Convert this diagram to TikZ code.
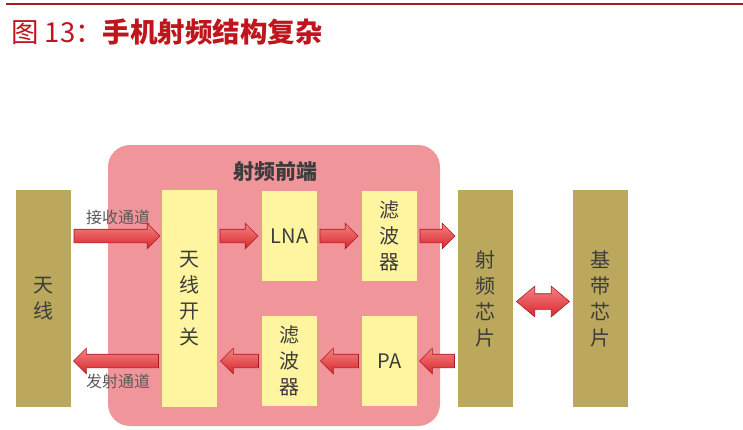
\documentclass[tikz,border=0pt]{standalone}
\usepackage{fontspec}
\setmainfont{Noto Sans CJK SC}
\usetikzlibrary{shapes.arrows,positioning}
\definecolor{titlered}{RGB}{190,22,28}
\definecolor{linered}{RGB}{165,28,30}
\definecolor{rfpink}{RGB}{240,150,155}
\definecolor{olivebox}{RGB}{187,168,92}
\definecolor{paleyel}{RGB}{255,245,160}
\definecolor{txtgray}{RGB}{60,60,60}
\definecolor{arrowdark}{RGB}{170,25,30}
\definecolor{arrowtop}{RGB}{245,130,130}
\definecolor{arrowbot}{RGB}{215,40,45}
\begin{document}
\begin{tikzpicture}[x=1pt,y=-1pt,
  chip/.style={fill=olivebox, minimum width=55pt, minimum height=217pt, inner sep=0pt, text=txtgray, font=\fontsize{20}{26}\selectfont, align=center},
  block/.style={fill=paleyel, minimum width=55pt, inner sep=0pt, text=txtgray, font=\fontsize{20}{26}\selectfont, align=center},
  fat/.style={single arrow, single arrow head extend=6pt, text height=13pt, text depth=0pt, minimum height=#1, inner sep=0pt, draw=arrowdark, line width=0.6pt, top color=arrowtop, bottom color=arrowbot, pos=0, anchor=tail},
  rarr/.style={fat=#1, xshift=2.5pt},
  larr/.style={fat=#1, shape border rotate=180, xshift=-3pt},
  darr/.style={double arrow, double arrow head extend=7.5pt, double arrow tip angle=80, text height=15pt, text depth=0pt, minimum height=#1, inner sep=0pt, draw=arrowdark, line width=0.6pt, top color=arrowtop, bottom color=arrowbot},
  chan/.style={text=txtgray!85, font=\fontsize{16}{16}\selectfont, inner sep=0pt}
]
\useasboundingbox (0,0) rectangle (743,429);

% title
\draw[linered, line width=2pt] (6,3.5) -- (743,3.5);
\node[anchor=west, text=titlered, font=\fontsize{27.5}{27.5}\selectfont, inner sep=0pt] (title) at (11,32) {图 13：{\bfseries 手机射频结构复杂}};

% rf front end
\node[fill=rfpink, rounded corners=22pt, minimum width=332pt, minimum height=281pt] (rffe) at (274,285.5) {};
\node[text=txtgray, font=\fontsize{21}{21}\selectfont\bfseries] (rffelab) at (275,172) {射频前端};

\node[chip] (ant) at (43.5,298.5) {天\\线};
\node[block, minimum height=217pt] (sw) at (189.5,298.5) {天\\线\\开\\关};
\node[block, minimum height=90pt] (lna) at (289.5,236) {LNA};
\node[block, minimum height=90pt] (filtrx) at (389.5,236) {滤\\波\\器};
\node[block, minimum height=90pt] (filttx) at (289.5,361) {滤\\波\\器};
\node[block, minimum height=90pt] (pa) at (389.5,361) {PA};
\node[chip] (rfic) at (485.5,298.5) {射\\频\\芯\\片};
\node[chip] (bb) at (600.5,298.5) {基\\带\\芯\\片};

% receive path
\path (ant.east |- lna) -- node[rarr=86pt] (rx) {} (sw.west |- lna);
\path (sw.east |- lna) -- node[rarr=38pt] {} (lna.west);
\path (lna.east) -- node[rarr=38pt] {} (filtrx.west);
\path (filtrx.east) -- node[rarr=35pt] {} (rfic.west |- filtrx);

% transmit path
\path (rfic.west |- pa) -- node[larr=35pt] {} (pa.east);
\path (pa.west) -- node[larr=38pt] {} (filttx.east);
\path (filttx.west) -- node[larr=38pt] {} (sw.east |- filttx);
\path (sw.west |- pa) -- node[larr=85pt] (tx) {} (ant.east |- pa);

\path (rfic) -- node[darr=53pt, yshift=-3pt] {} (bb);

\node[chan] (rxlab) at (118,217) {接收通道};
\node[chan] (txlab) at (118,381) {发射通道};
\end{tikzpicture}
\end{document}
